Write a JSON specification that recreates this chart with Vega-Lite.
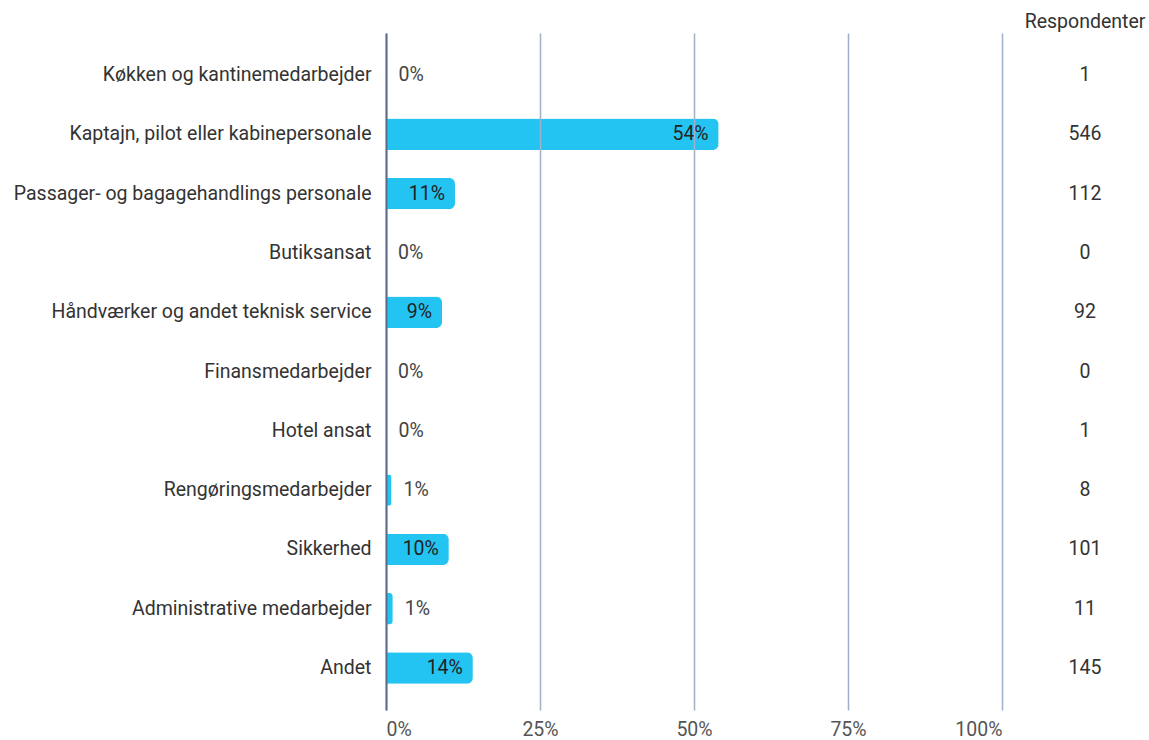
{
  "$schema": "https://vega.github.io/schema/vega-lite/v6.json",
  "background": "white",
  "padding": {"left": 13, "top": 11, "right": 5, "bottom": 5},
  "spacing": 33,
  "bounds": "flush",
  "config": {"font": "Roboto", "view": {"stroke": null}},
  "data": {"values": [
    {"cat": "Køkken og kantinemedarbejder", "pct": 0.1, "label": "0%", "n": 1},
    {"cat": "Kaptajn, pilot eller kabinepersonale", "pct": 54.0, "label": "54%", "n": 546},
    {"cat": "Passager- og bagagehandlings personale", "pct": 11.2, "label": "11%", "n": 112},
    {"cat": "Butiksansat", "pct": 0, "label": "0%", "n": 0},
    {"cat": "Håndværker og andet teknisk service", "pct": 9.1, "label": "9%", "n": 92},
    {"cat": "Finansmedarbejder", "pct": 0, "label": "0%", "n": 0},
    {"cat": "Hotel ansat", "pct": 0.1, "label": "0%", "n": 1},
    {"cat": "Rengøringsmedarbejder", "pct": 0.9, "label": "1%", "n": 8},
    {"cat": "Sikkerhed", "pct": 10.2, "label": "10%", "n": 101},
    {"cat": "Administrative medarbejder", "pct": 1.1, "label": "1%", "n": 11},
    {"cat": "Andet", "pct": 14.1, "label": "14%", "n": 145}
  ]},
  "hconcat": [
    {
      "width": 616,
      "height": 677,
      "encoding": {
        "y": {"field": "cat", "type": "nominal", "sort": null,
          "scale": {"type": "band", "paddingInner": 0.47, "paddingOuter": 0.443},
          "axis": {"title": null, "ticks": false, "domain": true, "domainColor": "#5b6b8c", "domainWidth": 2,
            "labelFontSize": 19.5, "labelColor": "#333333", "labelPadding": 15, "labelLimit": 500, "zindex": 1}},
        "x": {"field": "pct", "type": "quantitative", "scale": {"domain": [0, 100]},
          "axis": {"title": null, "values": [0, 25, 50, 75, 100], "labelExpr": "datum.value + '%'",
            "grid": true, "gridColor": "#9fb0c8", "gridWidth": 1.5, "domain": false,
            "ticks": false,
            "labelFontSize": 19.5, "labelColor": "#555555", "labelPadding": 10, "zindex": 1}}
      },
      "layer": [
        {"mark": {"type": "bar", "color": "#23C4F2", "cornerRadiusEnd": 6}},
        {"transform": [{"filter": "datum.pct >= 5"}],
         "mark": {"type": "text", "align": "right", "dx": -10, "fontSize": 19.5, "color": "#222222"},
         "encoding": {"text": {"field": "label"}}},
        {"transform": [{"filter": "datum.pct < 5"}],
         "mark": {"type": "text", "align": "left", "dx": 12, "fontSize": 19.5, "color": "#444444"},
         "encoding": {"text": {"field": "label"}}}
      ]
    },
    {
      "width": 100,
      "height": 677,
      "title": {"text": "Respondenter", "anchor": "middle", "fontSize": 19.5, "fontWeight": "normal", "color": "#333333", "offset": 1},
      "mark": {"type": "text", "fontSize": 19.5, "color": "#333333"},
      "encoding": {
        "y": {"field": "cat", "type": "nominal", "sort": null, "bandPosition": 0.5,
          "scale": {"type": "band", "paddingInner": 0.47, "paddingOuter": 0.443}, "axis": null},
        "text": {"field": "n"}
      }
    }
  ]
}
